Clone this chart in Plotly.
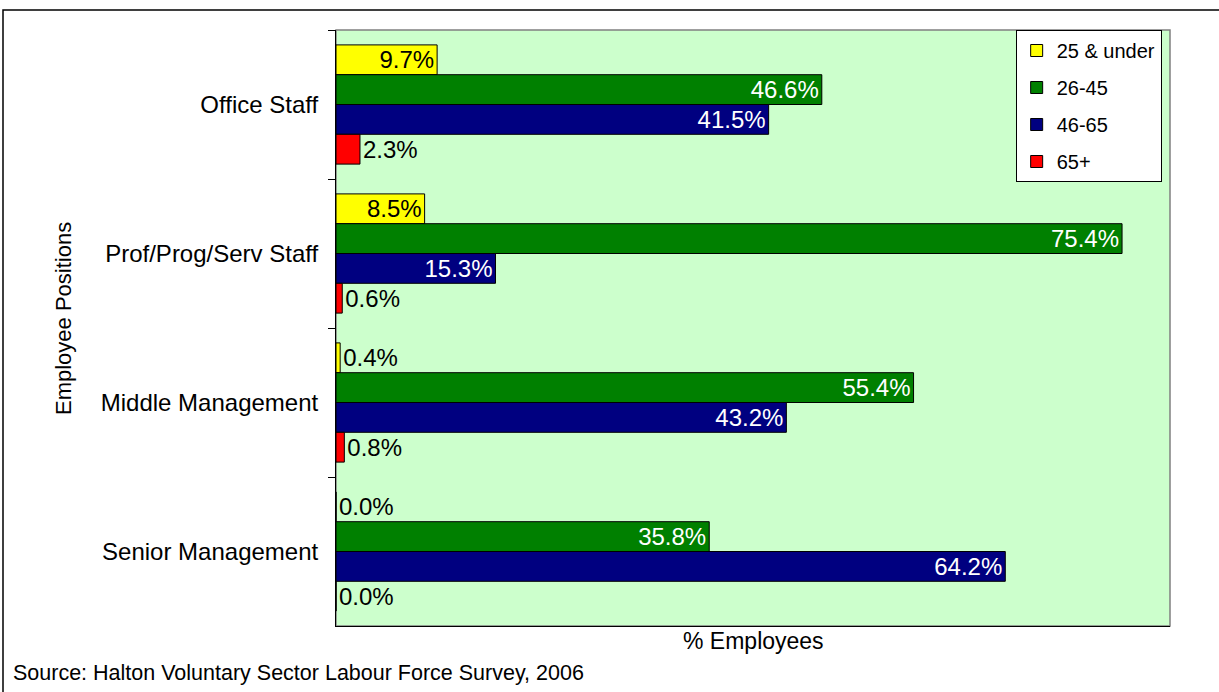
import plotly.graph_objects as go

categories = ["Office Staff", "Prof/Prog/Serv Staff", "Middle Management", "Senior Management"]
series_names = ["25 & under", "26-45", "46-65", "65+"]
v_25_under = [9.7, 8.5, 0.4, 0.0]
v_26_45 = [46.6, 75.4, 55.4, 35.8]
v_46_65 = [41.5, 15.3, 43.2, 64.2]
v_65_plus = [2.3, 0.6, 0.8, 0.0]
values = [v_25_under, v_26_45, v_46_65, v_65_plus]
colors = ["#FFFF00", "#008000", "#000080", "#FF0000"]
inside_text_colors = ["black", "white", "white", "white"]

FONT = "Liberation Sans, Arial, sans-serif"
W, H = 1219, 692
L, R, T, B = 336, 49, 30, 66
PW, PH = W - L - R, H - T - B

def px(x):
    return (x - L) / PW

def py(y):
    return 1 - (y - T) / PH

fig = go.Figure()
for name, vals, col, tcol in zip(series_names, values, colors, inside_text_colors):
    fig.add_trace(go.Bar(
        y=categories, x=vals, name=name, orientation="h",
        marker=dict(color=col, line=dict(color="black", width=1)),
        text=[f"{v:.1f}%" for v in vals],
        textposition=["outside" if v < 5 else "inside" for v in vals],
        insidetextanchor="end",
        insidetextfont=dict(color=tcol, size=24, family=FONT),
        outsidetextfont=dict(color="black", size=24, family=FONT),
        constraintext="none",
        cliponaxis=False,
        legendgroup=name,
    ))

fig.update_layout(
    width=W, height=H,
    margin=dict(l=L, r=R, t=T, b=B),
    paper_bgcolor="white",
    plot_bgcolor="#CCFFCC",
    barmode="group", bargap=0.2, bargroupgap=0,
    font=dict(family=FONT, color="black"),
    legend=dict(
        x=0.99, xanchor="right", y=1, yanchor="top",
        bgcolor="white", bordercolor="black", borderwidth=1,
        font=dict(size=20, family=FONT),
        tracegroupgap=8, traceorder="grouped",
        itemwidth=30,
    ),
    showlegend=True,
)
fig.update_xaxes(range=[0, 80], showticklabels=False, showgrid=False, zeroline=False,
                 showline=True, linecolor="black", linewidth=1, ticks="")
fig.update_yaxes(autorange="reversed", showgrid=False, zeroline=False,
                 showline=True, linecolor="black", linewidth=1,
                 ticks="outside", tickson="boundaries", ticklen=7, tickcolor="black",
                 tickfont=dict(size=24, family=FONT), ticklabelstandoff=12)

shapes = [
    dict(type="rect", xref="paper", yref="paper", x0=0, x1=1, y0=0, y1=1,
         line=dict(color="#808080", width=1.5), layer="below"),
    dict(type="rect", xref="paper", yref="paper", x0=px(3), x1=px(1230), y0=py(10), y1=py(700),
         line=dict(color="black", width=1.5)),
]
fig.update_layout(shapes=shapes)

fig.add_annotation(text="Employee Positions", xref="paper", yref="paper",
                   x=px(63), y=py(319), textangle=-90, showarrow=False,
                   font=dict(size=22, family=FONT), xanchor="center", yanchor="middle")
fig.add_annotation(text="% Employees", xref="paper", yref="paper",
                   x=0.5, y=py(641), showarrow=False,
                   font=dict(size=23, family=FONT), xanchor="center", yanchor="middle")
fig.add_annotation(text="Source: Halton Voluntary Sector Labour Force Survey, 2006", xref="paper", yref="paper",
                   x=px(11), y=py(673), showarrow=False,
                   font=dict(size=21.5, family=FONT), xanchor="left", yanchor="middle")

fig.write_html("out.html")
